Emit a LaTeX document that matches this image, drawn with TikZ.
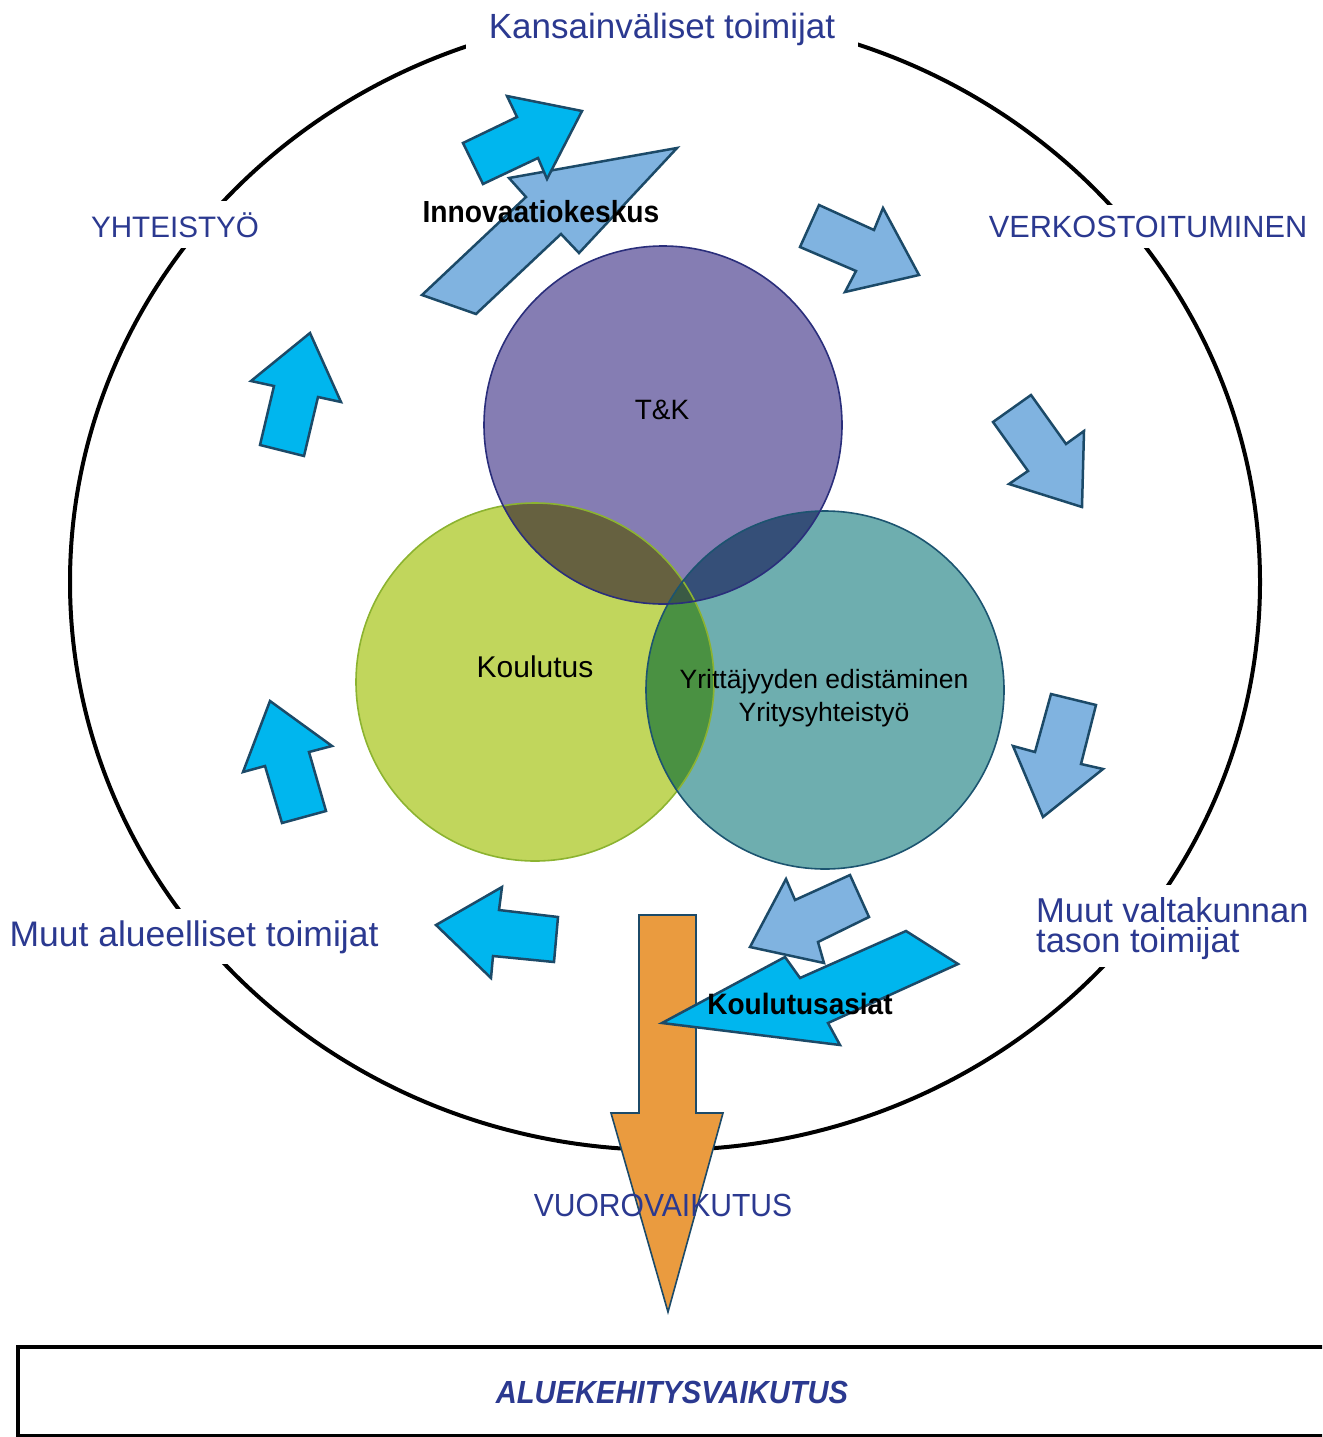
\documentclass[tikz,border=0pt]{standalone}
\usepackage{fontspec}
\setmainfont{Liberation Sans}
\usepackage{graphicx}
\definecolor{lblue}{HTML}{2B3990}
\definecolor{cyanA}{HTML}{00B6EE}
\definecolor{lbA}{HTML}{80B3E0}
\definecolor{edgeA}{HTML}{1C4A68}
\definecolor{orA}{HTML}{EA9B3F}
\definecolor{purA}{HTML}{857DB3}
\definecolor{purE}{HTML}{2A2E7B}
\definecolor{grA}{HTML}{C1D65C}
\definecolor{grE}{HTML}{8CB330}
\definecolor{teA}{HTML}{6EAEAF}
\definecolor{teE}{HTML}{1C5470}
\definecolor{pgOv}{HTML}{666140}
\definecolor{ptOv}{HTML}{354F78}
\definecolor{gtOv}{HTML}{4A9142}
\definecolor{allOv}{HTML}{3A5A45}
\begin{document}
\begin{tikzpicture}[x=1pt,y=-1pt,
  cyanarrow/.style={fill=cyanA, draw=edgeA, line width=2.5pt, line join=miter},
  lbarrow/.style={fill=lbA, draw=edgeA, line width=2.5pt, line join=miter},
  mixlab/.style={text=lblue, fill=white, inner xsep=6pt, inner ysep=9pt},
  capslab/.style={text=lblue, fill=white, inner xsep=8pt, inner ysep=11pt},
  plainlab/.style={text=lblue, inner sep=0pt},
  venntext/.style={text=black, inner sep=0pt},
  boldlab/.style={text=black, inner sep=0pt, font=\bfseries}
]
\useasboundingbox (0,0) rectangle (1322,1437);
\clip (0,0) rectangle (1322,1437);

% big ellipse
\draw[line width=4pt] (665,582) ellipse [x radius=595pt, y radius=568pt];

% outer labels
\node[mixlab, inner xsep=23pt, anchor=base, font={\fontsize{35}{42}\selectfont}] (kans) at (662,39) {Kansainväliset toimijat};
\node[capslab, anchor=base, font={\fontsize{29.6}{36}\selectfont}] (yht) at (175,237) {YHTEISTYÖ};
\node[capslab, anchor=base, font={\fontsize{30.7}{36}\selectfont}] (verk) at (1148,237) {VERKOSTOITUMINEN};
\node[mixlab, inner ysep=11pt, anchor=base, font={\fontsize{35.5}{42}\selectfont}] (alue) at (194,946) {Muut alueelliset toimijat};
\fill[white] (1030,885) rectangle (1322,967);
\node[plainlab, anchor=north west, align=left, font={\fontsize{34.5}{30}\selectfont}] (valt) at (1036,897) {Muut valtakunnan\\tason toimijat};

% Venn circles
\coordinate (cP) at (663,425);
\coordinate (cG) at (535,682);
\coordinate (cT) at (825,690);
\fill[purA] (cP) circle [radius=179pt];
\fill[grA] (cG) circle [radius=179pt];
\fill[teA] (cT) circle [radius=179pt];
\begin{scope}
  \clip (cP) circle [radius=179pt];
  \fill[pgOv] (cG) circle [radius=179pt];
  \fill[ptOv] (cT) circle [radius=179pt];
\end{scope}
\begin{scope}
  \clip (cG) circle [radius=179pt];
  \fill[gtOv] (cT) circle [radius=179pt];
\end{scope}
\begin{scope}
  \clip (cP) circle [radius=179pt];
  \clip (cG) circle [radius=179pt];
  \fill[allOv] (cT) circle [radius=179pt];
\end{scope}
\draw[grE, line width=1.6pt] (cG) circle [radius=179pt];
\draw[teE, line width=1.6pt] (cT) circle [radius=179pt];
\draw[purE, line width=1.6pt] (cP) circle [radius=179pt];

\node[venntext, anchor=base, font={\fontsize{28}{34}\selectfont}] (tk) at (662,419) {T\&K};
\node[venntext, anchor=base, font={\fontsize{30}{36}\selectfont}] (koul) at (535,677) {Koulutus};
\node[venntext, anchor=base, font={\fontsize{26.5}{32}\selectfont}] (yrit1) at (824,688) {Yrittäjyyden edistäminen};
\node[venntext, anchor=base, font={\fontsize{26.5}{32}\selectfont}] (yrit2) at (824,721) {Yritysyhteistyö};

% arrows
\draw[lbarrow] (422,295) -- (526,197) -- (509,178) -- (677,148) -- (579,253) -- (561,234) -- (476,314) -- cycle;
\draw[cyanarrow] (463,143) -- (517,117) -- (507,96) -- (582,111) -- (547,179) -- (538,158) -- (483,184) -- cycle;
\node[boldlab, anchor=base] (innov) at (541,222) {\scalebox{0.925}[1]{\fontsize{30.5}{36}\selectfont\bfseries Innovaatiokeskus}};

\draw[lbarrow] (800,247) -- (819,205) -- (874,230) -- (883,208) -- (919,275) -- (845,292) -- (856,271) -- cycle;
\draw[lbarrow] (993,422) -- (1031,395) -- (1066,444) -- (1084,431) -- (1082,507) -- (1009,484) -- (1028,471) -- cycle;
\draw[lbarrow] (1051,694) -- (1096,705) -- (1081,764) -- (1103,769) -- (1043,817) -- (1013,746) -- (1035,752) -- cycle;

\draw[cyanarrow] (436,925) -- (502,887) -- (499,910) -- (558,917) -- (554,962) -- (493,956) -- (491,978) -- cycle;
\draw[cyanarrow] (270,701) -- (332,746) -- (309,752) -- (326,811) -- (282,823) -- (265,766) -- (243,772) -- cycle;
\draw[cyanarrow] (310,333) -- (341,402) -- (318,397) -- (304,456) -- (260,445) -- (274,386) -- (251,381) -- cycle;

% orange arrow
\draw[fill=orA, draw=edgeA, line width=1.6pt, line join=miter] (639,915) -- (696,915) -- (696,1113) -- (723,1113) -- (668,1312) -- (611,1113) -- (639,1113) -- cycle;

\draw[lbarrow] (850,875) -- (869,917) -- (818,942) -- (824,963) -- (750,947) -- (786,879) -- (795,900) -- cycle;
\draw[cyanarrow] (906,931) -- (958,964) -- (828,1023) -- (840,1045) -- (662,1023) -- (785,957) -- (800,978) -- cycle;
\node[boldlab, anchor=base] (kasiat) at (800,1014) {\scalebox{0.95}[1]{\fontsize{29.5}{36}\selectfont\bfseries Koulutusasiat}};

\node[plainlab, anchor=base] (vuoro) at (663,1216) {\scalebox{0.94}[1]{\fontsize{32}{38}\selectfont VUOROVAIKUTUS}};

% bottom box
\node[draw=black, line width=3.5pt, minimum width=1340pt, minimum height=89pt, anchor=north west, inner sep=0pt] (box) at (16,1345) {};
\node[plainlab, anchor=base] (aluek) at (672,1403) {\scalebox{0.91}[1]{\fontsize{32}{38}\selectfont\bfseries\itshape ALUEKEHITYSVAIKUTUS}};
\end{tikzpicture}
\end{document}
